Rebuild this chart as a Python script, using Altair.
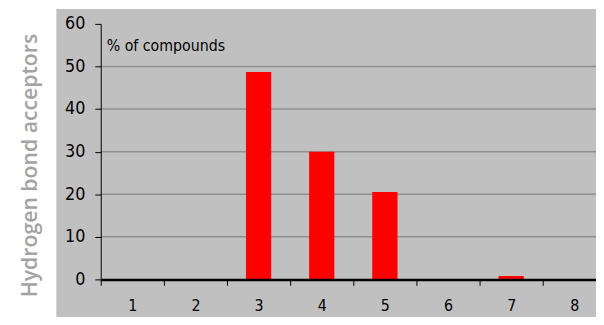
import altair as alt
import pandas as pd

categories = ["1", "2", "3", "4", "5", "6", "7", "8"]
percent = [0, 0, 48.7, 30.0, 20.5, 0, 0.8, 0]
grid_values = [10, 20, 30, 40, 50]
y_ticks = [0, 10, 20, 30, 40, 50, 60]

FONT = "DejaVu Sans Condensed"
W, H = 512, 259

df = pd.DataFrame({"cat": categories, "pct": percent})
grid_df = pd.DataFrame({"pct": grid_values})

xscale = alt.Scale(domain=categories, paddingInner=0, paddingOuter=0)
yscale = alt.Scale(domain=[0, 60], nice=False)

yaxis = alt.Axis(values=y_ticks, title="Hydrogen bond acceptors", grid=False,
                 domainColor="#000000", domainWidth=1, tickColor="#000000",
                 tickSize=6, tickWidth=1, labelFont=FONT, labelFontSize=18,
                 labelColor="#000000", labelPadding=10, zindex=1,
                 titleFont="Open Sans", titleFontSize=21.5, titleFontWeight=600,
                 titleColor="#a3a3a3", titleX=-65, titleY=143,
                 titleBaseline="alphabetic")

bg = alt.Chart(pd.DataFrame({"a": [0]})).mark_rect(color="#c0c0c0").encode(
    x=alt.value(-45), x2=alt.value(W + 40), y=alt.value(-15), y2=alt.value(H + 60)
)

grid = alt.Chart(grid_df).mark_rule(color="#8f8f8f", strokeWidth=1.5).encode(
    y=alt.Y("pct:Q", scale=yscale, axis=yaxis),
    x=alt.value(0), x2=alt.value(W + 20),
)

bars = alt.Chart(df).mark_bar(color="#ff0000", width=alt.RelativeBandSize(0.4)).encode(
    x=alt.X("cat:N", scale=xscale, sort=categories,
            axis=alt.Axis(title=None, labelAngle=0, tickBand="extent", domainColor="#000000",
                          domainWidth=2.5, tickColor="#000000", tickSize=6, tickWidth=1,
                          labelFont=FONT, labelFontSize=16, labelColor="#000000",
                          labelPadding=13, grid=False, zindex=2)),
    y=alt.Y("pct:Q", scale=yscale, axis=yaxis),
)

label = alt.Chart(pd.DataFrame({"t": ["% of compounds"]})).mark_text(
    align="left", baseline="middle", font=FONT, fontSize=16, color="#000000"
).encode(text="t:N", x=alt.value(6), y=alt.value(22))

chart = alt.layer(bg, grid, bars, label).properties(
    width=W, height=H,
    autosize=alt.AutoSizeParams(type="none"),
    padding={"left": 94, "top": 14, "right": -10, "bottom": 36},
    background="#ffffff",
).configure_view(stroke=None)

chart.save("out.html", embed_options={"renderer": "svg", "actions": False})
